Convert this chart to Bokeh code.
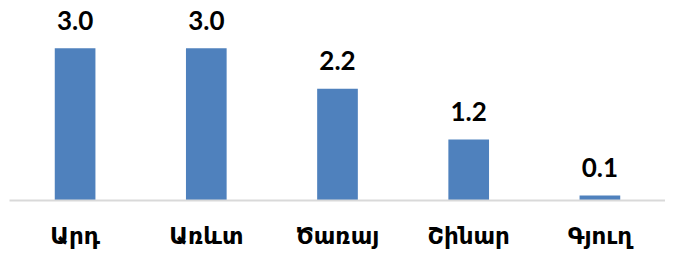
from bokeh.plotting import figure
from bokeh.models import ColumnDataSource, Range1d
from bokeh.core.properties import value
from bokeh.embed import file_html
from bokeh.resources import INLINE

categories = ["Արդ", "Առևտ", "Ծառայ", "Շինար", "Գյուղ"]
values = [3.0, 3.0, 2.2, 1.2, 0.1]
labels = ["3.0", "3.0", "2.2", "1.2", "0.1"]

src = ColumnDataSource(dict(cat=categories, val=values, lab=labels))

p = figure(x_range=categories, y_range=Range1d(0, 3.94), width=665, height=251,
           output_backend="svg", toolbar_location=None,
           min_border_left=9, min_border_right=0, min_border_top=0, min_border_bottom=50)
p.outline_line_color = None
p.background_fill_color = "white"
p.border_fill_color = "white"
p.grid.grid_line_color = None
p.x_range.range_padding = 0

p.vbar(x="cat", top="val", width=0.31, source=src, fill_color="#4F81BD",
       line_color="#4F81BD", line_width=0)

p.text(x="cat", y="val", text="lab", source=src, text_align="center",
       text_baseline="alphabetic", y_offset=-28,
       text_font=value("Lato"), text_font_style="bold", text_font_size="26px",
       text_color="#000000")

p.yaxis.visible = False
ax = p.xaxis[0]
ax.axis_line_color = "#D9D9D9"
ax.axis_line_width = 2
ax.major_tick_line_color = None
ax.minor_tick_line_color = None
ax.major_label_standoff = 16
ax.major_label_text_font = "DejaVu Sans"
ax.major_label_text_font_style = "bold"
ax.major_label_text_font_size = "23px"
ax.major_label_text_color = "#000000"

open("out.html", "w").write(file_html(p, INLINE))
